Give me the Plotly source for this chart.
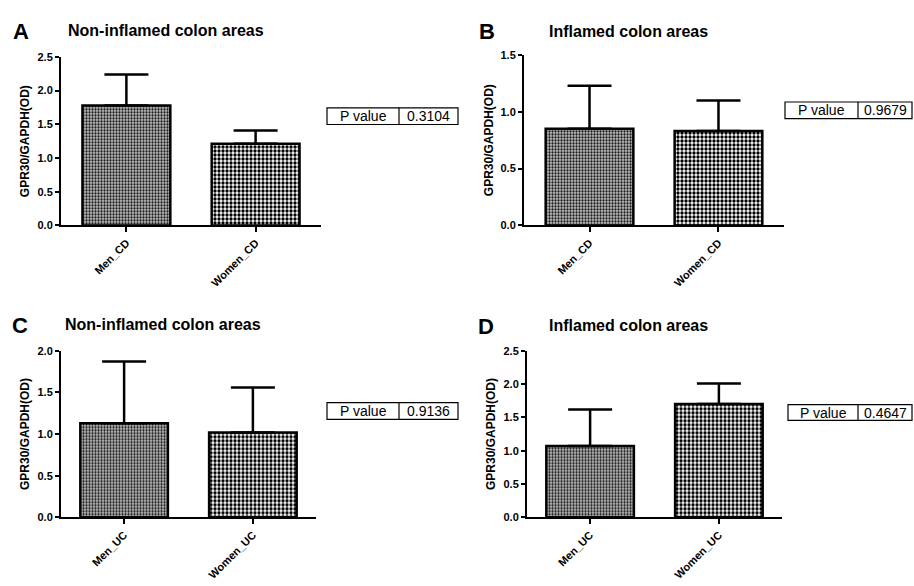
import plotly.graph_objects as go

W, H = 914, 586

# ---------------- data ----------------
panel_letters = ["A", "B", "C", "D"]
panel_titles = ["Non-inflamed colon areas", "Inflamed colon areas",
                "Non-inflamed colon areas", "Inflamed colon areas"]
categories_cd = ["Men_CD", "Women_CD"]
categories_uc = ["Men_UC", "Women_UC"]
means_a = [1.78, 1.21]
errs_a = [0.46, 0.20]
means_b = [0.85, 0.83]
errs_b = [0.38, 0.27]
means_c = [1.13, 1.02]
errs_c = [0.74, 0.54]
means_d = [1.07, 1.70]
errs_d = [0.55, 0.31]
p_values = ["0.3104", "0.9679", "0.9136", "0.4647"]
y_maxes = [2.5, 1.5, 2.0, 2.5]
y_tick_vals = [[0.0, 0.5, 1.0, 1.5, 2.0, 2.5], [0.0, 0.5, 1.0, 1.5],
               [0.0, 0.5, 1.0, 1.5, 2.0], [0.0, 0.5, 1.0, 1.5, 2.0, 2.5]]
y_title = "GPR30/GAPDH(OD)"

panels = [
    (categories_cd, means_a, errs_a),
    (categories_cd, means_b, errs_b),
    (categories_uc, means_c, errs_c),
    (categories_uc, means_d, errs_d),
]

# ---------------- layout geometry (pixels) ----------------
geo = [
    dict(x0=61, x1=321, y0=52, y1=224, xr=[-0.506, 1.506]),
    dict(x0=524, x1=784, y0=50, y1=224, xr=[-0.508, 1.508]),
    dict(x0=61, x1=316, y0=352, y1=522, xr=[-0.49, 1.49]),
    dict(x0=527, x1=782, y0=352, y1=522, xr=[-0.49, 1.49]),
]
letter_pos = [(21, 26), (487, 26), (20, 326), (486, 327)]
title_pos = [(166, 25), (628, 26), (163, 325), (628, 326)]
ytitle_x = [25, 489, 25, 491]
pbox = [
    dict(x0=327, x1=458, xd=399, y0=104, y1=121),
    dict(x0=785, x1=912, xd=858, y0=98, y1=115),
    dict(x0=327, x1=458, xd=399, y0=405, y1=422),
    dict(x0=788, x1=912, xd=858, y0=407, y1=423),
]

def px(x):
    return x / W

def py(y):
    return 1 - y / H

FONT = "Liberation Sans, Arial, sans-serif"

fig = go.Figure()
layout = dict(
    width=W, height=H, autosize=False,
    margin=dict(l=0, r=0, t=0, b=0),
    paper_bgcolor="white", plot_bgcolor="white",
    showlegend=False,
    font=dict(family=FONT, color="black"),
)

annotations = []
shapes = []

men_pattern = dict(shape=".", size=3, solidity=0.45, fgcolor="#1a1a1a", bgcolor="#c0c0c0", fillmode="replace")
women_pattern = dict(shape=".", size=4, solidity=0.55, fgcolor="#000000", bgcolor="#ffffff", fillmode="replace")

for i, (cats, means, errs) in enumerate(panels):
    g = geo[i]
    ax = "" if i == 0 else str(i + 1)
    xa, ya = "x" + ax, "y" + ax
    for j in range(2):
        fig.add_trace(go.Bar(
            x=[cats[j]], y=[means[j]],
            xaxis=xa, yaxis=ya,
            width=0.68,
            marker=dict(color="white", line=dict(color="black", width=2.5),
                        pattern=men_pattern if j == 0 else women_pattern),
            error_y=dict(type="data", symmetric=False, array=[errs[j]], arrayminus=[0],
                         color="black", thickness=2.5, width=22),
            hoverinfo="skip",
        ))
    layout["xaxis" + ax] = dict(
        domain=[px(g["x0"]), px(g["x1"])], anchor=ya,
        type="category", categoryorder="array", categoryarray=cats,
        range=g["xr"], showline=True, linecolor="black", linewidth=2,
        ticks="outside", ticklen=5, tickwidth=2, tickcolor="black",
        tickangle=-45, tickfont=dict(family=FONT, size=11, color="black", weight="bold"),
        showgrid=False, zeroline=False, fixedrange=True,
    )
    layout["yaxis" + ax] = dict(
        domain=[py(g["y1"]), py(g["y0"])], anchor=xa,
        range=[0, y_maxes[i]], tickvals=y_tick_vals[i],
        ticktext=["%.1f" % v for v in y_tick_vals[i]],
        showline=True, linecolor="black", linewidth=2,
        ticks="outside", ticklen=4, tickwidth=2, tickcolor="black",
        tickfont=dict(family=FONT, size=11, color="black", weight="bold"),
        showgrid=False, zeroline=False, fixedrange=True,
    )
    lx, ly = letter_pos[i]
    annotations.append(dict(text="<b>%s</b>" % panel_letters[i], x=px(lx), y=py(ly),
                            xref="paper", yref="paper", showarrow=False,
                            font=dict(family=FONT, size=22, color="black"),
                            xanchor="center", yanchor="middle"))
    tx, ty = title_pos[i]
    annotations.append(dict(text="<b>%s</b>" % panel_titles[i], x=px(tx), y=py(ty),
                            xref="paper", yref="paper", showarrow=False,
                            font=dict(family=FONT, size=16, color="black"),
                            xanchor="center", yanchor="middle"))
    annotations.append(dict(text="<b>%s</b>" % y_title, x=px(ytitle_x[i]),
                            y=py((g["y0"] + g["y1"]) / 2),
                            xref="paper", yref="paper", showarrow=False, textangle=-90,
                            font=dict(family=FONT, size=12, color="black"),
                            xanchor="center", yanchor="middle"))
    b = pbox[i]
    shapes.append(dict(type="rect", xref="paper", yref="paper",
                       x0=px(b["x0"]), x1=px(b["x1"]), y0=py(b["y1"]), y1=py(b["y0"]),
                       line=dict(color="black", width=1.2), fillcolor="white"))
    shapes.append(dict(type="line", xref="paper", yref="paper",
                       x0=px(b["xd"]), x1=px(b["xd"]), y0=py(b["y1"]), y1=py(b["y0"]),
                       line=dict(color="black", width=1.2)))
    ym = py((b["y0"] + b["y1"]) / 2)
    annotations.append(dict(text="P value", x=px((b["x0"] + b["xd"]) / 2), y=ym,
                            xref="paper", yref="paper", showarrow=False,
                            font=dict(family=FONT, size=14, color="black"),
                            xanchor="center", yanchor="middle"))
    annotations.append(dict(text=p_values[i], x=px((b["xd"] + b["x1"]) / 2), y=ym,
                            xref="paper", yref="paper", showarrow=False,
                            font=dict(family=FONT, size=14, color="black"),
                            xanchor="center", yanchor="middle"))

layout["annotations"] = annotations
layout["shapes"] = shapes
fig.update_layout(**layout)
fig.write_html(
    "out.html", config={"displayModeBar": False},
    post_script=("document.body.style.margin='0px';"
                 "var d=document.getElementById('{plot_id}');"
                 "d.style.position='absolute';d.style.left='0px';d.style.top='0px';"),
)
